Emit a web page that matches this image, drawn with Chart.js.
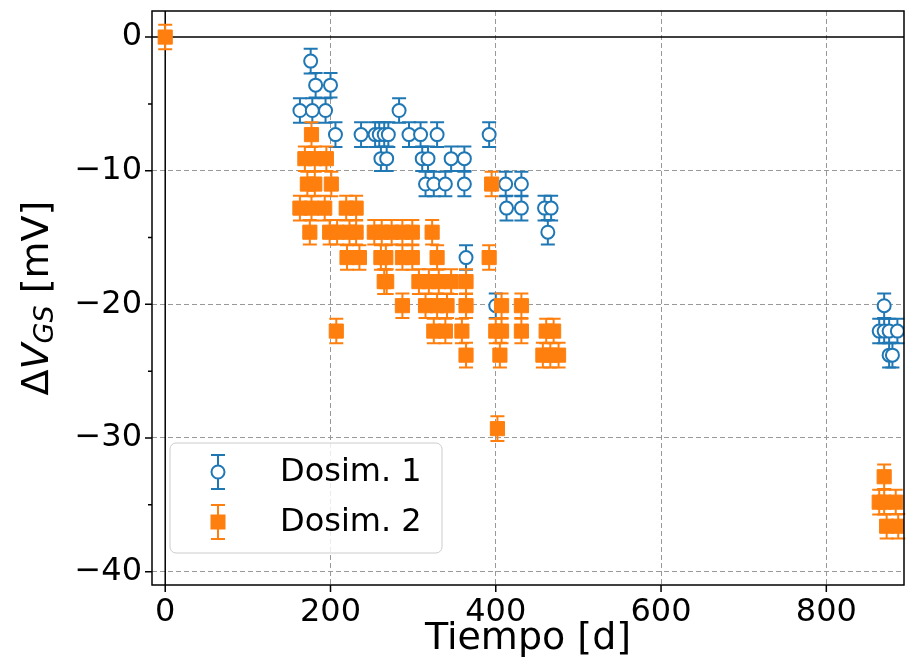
<!DOCTYPE html>
<html>
<head>
<meta charset="utf-8">
<script src="https://cdn.jsdelivr.net/npm/chart.js@4.4.1/dist/chart.umd.min.js"></script>
<style>
html, body { margin: 0; padding: 0; background: #fff; }
</style>
</head>
<body>
<canvas id="chart" width="915" height="668"></canvas>
<script>
// values (days, mV)
const DOSIM1_X = [163, 176, 178, 182, 194, 200, 206, 237, 254, 259, 261, 265, 268, 270, 283, 295, 309, 311, 315, 318, 325, 329, 339, 346, 362, 362, 364, 392, 400, 412, 413, 431, 431, 459, 463, 467,
    864, 870, 870, 876, 876, 880, 886]
const DOSIM1_Y = [-5.5, -1.8, -5.5, -3.6, -5.5, -3.6, -7.3, -7.3, -7.3, -7.3, -9.1, -7.3, -9.1, -7.3, -5.5, -7.3, -7.3, -9.1, -11, -9.1, -11, -7.3, -11, -9.1, -9.1, -11, -16.5, -7.3, -20.1, -11, -12.8, -11, -12.8, -12.8, -14.6, -12.8,
    -22, -20.1, -22, -22, -23.8, -23.8, -22]

const DOSIM2_X = [0, 177, 169, 181, 195, 172, 181, 201, 163, 177, 193, 219, 231,
    175, 199, 208, 223, 231, 253, 262, 274, 287, 299, 323,
    220, 235, 261, 267, 287, 299, 329, 392,
    265, 268, 307, 319, 331, 346, 364,
    287, 315, 329, 341, 364, 407, 431,
    207, 325, 339, 359, 400, 407, 431, 461, 470,
    364, 405, 457, 466, 476, 402, 395,
    870, 864, 870, 884, 873, 887]
const DOSIM2_Y = [0, -7.3, -9.1, -9.1, -9.1, -11, -11, -11, -12.8, -12.8, -12.8, -12.8, -12.8,
    -14.6, -14.6, -14.6, -14.6, -14.6, -14.6, -14.6, -14.6, -14.6, -14.6, -14.6,
    -16.5, -16.5, -16.5, -16.5, -16.5, -16.5, -16.5, -16.5,
    -18.3, -18.3, -18.3, -18.3, -18.3, -18.3, -18.3,
    -20.1, -20.1, -20.1, -20.1, -20.1, -20.1, -20.1,
    -22, -22, -22, -22, -22, -22, -22, -22, -22,
    -23.8, -23.8, -23.8, -23.8, -23.8, -29.3, -11,
    -32.9, -34.8, -34.8, -34.8, -36.6, -36.6]

const ERROR_MV = 0.92
const SERIES_LABELS = ['Dosim. 1', 'Dosim. 2']
const X_TICKS = [0, 200, 400, 600, 800]
const Y_TICKS = [-40, -35, -30, -25, -20, -15, -10, -5, 0]

const BLUE = '#1f77b4'
const ORANGE = '#ff7f0e'
const FONT = 'DejaVu Sans'
const TICK_SIZE = 32
const TITLE_SIZE = 38

function toPoints(xs, ys) {
    return xs.map((x, i) => ({ x: x, y: ys[i] }))
}

function fmt(v) {
    return v < 0 ? '\u2212' + Math.abs(v) : String(v)
}

const errorBars = {
    id: 'errorBars',
    beforeDatasetDraw(chart, args) {
        const ds = chart.data.datasets[args.index]
        const yScale = chart.scales.y
        const ctx = chart.ctx
        ctx.save()
        ctx.strokeStyle = ds.borderColor
        ctx.lineWidth = 2
        args.meta.data.forEach((el, i) => {
            const v = ds.data[i].y
            const top = yScale.getPixelForValue(v + ERROR_MV)
            const bot = yScale.getPixelForValue(v - ERROR_MV)
            ctx.beginPath()
            ctx.moveTo(el.x, top); ctx.lineTo(el.x, bot)
            ctx.moveTo(el.x - 7, top); ctx.lineTo(el.x + 7, top)
            ctx.moveTo(el.x - 7, bot); ctx.lineTo(el.x + 7, bot)
            ctx.stroke()
        })
        ctx.restore()
    }
}

// black zero lines under the markers
const zeroLines = {
    id: 'zeroLines',
    beforeDatasetsDraw(chart) {
        const { ctx, chartArea: a, scales } = chart
        const x0 = scales.x.getPixelForValue(0)
        const y0 = scales.y.getPixelForValue(0)
        ctx.save()
        ctx.strokeStyle = '#000'
        ctx.lineWidth = 1.5
        ctx.beginPath()
        ctx.moveTo(a.left, y0); ctx.lineTo(a.right, y0)
        ctx.moveTo(x0, a.top); ctx.lineTo(x0, a.bottom)
        ctx.stroke()
        ctx.restore()
    }
}

// frame, tick marks, axis titles, legend
const decorations = {
    id: 'decorations',
    afterDraw(chart) {
        const { ctx, chartArea: a, scales } = chart
        ctx.save()
        ctx.strokeStyle = '#000'
        ctx.lineWidth = 1.5
        ctx.strokeRect(a.left, a.top, a.right - a.left, a.bottom - a.top)

        ctx.beginPath()
        X_TICKS.forEach(v => {
            const px = scales.x.getPixelForValue(v)
            ctx.moveTo(px, a.bottom); ctx.lineTo(px, a.bottom + 7)
        })
        Y_TICKS.forEach(v => {
            const py = scales.y.getPixelForValue(v)
            const len = v % 10 === 0 ? 7 : 4
            ctx.moveTo(a.left, py); ctx.lineTo(a.left - len, py)
        })
        ctx.stroke()

        ctx.fillStyle = '#000'
        ctx.textAlign = 'center'
        ctx.textBaseline = 'middle'
        ctx.font = TITLE_SIZE + 'px "' + FONT + '"'
        ctx.fillText('Tiempo [d]', (a.left + a.right) / 2, 639)

        // y title: ΔV_GS [mV]
        ctx.translate(38, (a.top + a.bottom) / 2)
        ctx.rotate(-Math.PI / 2)
        const big = TITLE_SIZE + 'px "' + FONT + '"'
        const ital = 'italic ' + TITLE_SIZE + 'px "' + FONT + '"'
        const sub = 'italic ' + Math.round(TITLE_SIZE * 0.7) + 'px "' + FONT + '"'
        const parts = [
            { t: '\u0394', f: big, dy: 0 },
            { t: 'V', f: ital, dy: 0 },
            { t: 'GS', f: sub, dy: 8 },
            { t: ' [mV]', f: big, dy: 0 }
        ]
        let total = 0
        parts.forEach(p => { ctx.font = p.f; p.w = ctx.measureText(p.t).width; total += p.w })
        let cx = -total / 2
        ctx.textAlign = 'left'
        ctx.textBaseline = 'middle'
        parts.forEach(p => {
            ctx.font = p.f
            ctx.fillText(p.t, cx, p.dy)
            cx += p.w
        })
        ctx.restore()

        // legend
        ctx.save()
        const lx = 170, ly = 443, lw = 272, lh = 110
        ctx.beginPath()
        ctx.roundRect(lx, ly, lw, lh, 6)
        ctx.fillStyle = 'rgba(255,255,255,0.8)'
        ctx.fill()
        ctx.strokeStyle = '#cccccc'
        ctx.lineWidth = 1
        ctx.stroke()

        const mx = 218
        const rows = [
            { y: 472, color: BLUE, label: SERIES_LABELS[0], circle: true },
            { y: 522, color: ORANGE, label: SERIES_LABELS[1], circle: false }
        ]
        rows.forEach(r => {
            ctx.strokeStyle = r.color
            ctx.lineWidth = 2
            ctx.beginPath()
            ctx.moveTo(mx, r.y - 17); ctx.lineTo(mx, r.y + 17)
            ctx.moveTo(mx - 7, r.y - 17); ctx.lineTo(mx + 7, r.y - 17)
            ctx.moveTo(mx - 7, r.y + 17); ctx.lineTo(mx + 7, r.y + 17)
            ctx.stroke()
            if (r.circle) {
                ctx.beginPath()
                ctx.arc(mx, r.y, 6.5, 0, Math.PI * 2)
                ctx.fillStyle = '#fff'
                ctx.fill()
                ctx.stroke()
            } else {
                ctx.fillStyle = r.color
                ctx.fillRect(mx - 7.5, r.y - 7.5, 15, 15)
            }
            ctx.fillStyle = '#000'
            ctx.font = TICK_SIZE + 'px "' + FONT + '"'
            ctx.textAlign = 'left'
            ctx.textBaseline = 'middle'
            ctx.fillText(r.label, 280, r.y + 1)
        })
        ctx.restore()
    }
}

new Chart(document.getElementById('chart'), {
    type: 'scatter',
    data: {
        datasets: [{
            label: SERIES_LABELS[0],
            data: toPoints(DOSIM1_X, DOSIM1_Y),
            borderColor: BLUE,
            backgroundColor: '#ffffff',
            pointStyle: 'circle',
            pointRadius: 6.5,
            pointBorderWidth: 2,
            order: 1
        }, {
            label: SERIES_LABELS[1],
            data: toPoints(DOSIM2_X, DOSIM2_Y),
            borderColor: ORANGE,
            backgroundColor: ORANGE,
            pointStyle: 'rect',
            pointRadius: 10,
            pointBorderWidth: 1,
            order: 0
        }]
    },
    options: {
        responsive: false,
        animation: false,
        events: [],
        layout: { padding: { top: 5, right: 7, left: 0, bottom: 0 } },
        plugins: {
            legend: { display: false },
            tooltip: { enabled: false }
        },
        scales: {
            x: {
                type: 'linear',
                min: -16,
                max: 894,
                afterBuildTicks: s => { s.ticks = X_TICKS.map(v => ({ value: v })) },
                afterFit: s => { s.height = 83; s.paddingLeft = 0; s.paddingRight = 0 },
                border: { display: false, dash: [5, 3] },
                grid: {
                    drawTicks: false,
                    color: c => c.tick && c.tick.value !== 0 ? '#999999' : 'rgba(0,0,0,0)',
                    lineWidth: 1
                },
                ticks: {
                    padding: 8,
                    color: '#000',
                    font: { family: FONT, size: TICK_SIZE },
                    maxRotation: 0,
                    callback: v => fmt(v)
                }
            },
            y: {
                type: 'linear',
                min: -41,
                max: 1.95,
                afterBuildTicks: s => { s.ticks = Y_TICKS.map(v => ({ value: v })) },
                afterFit: s => { s.width = 152; s.paddingTop = 0; s.paddingBottom = 0 },
                border: { display: false, dash: [5, 3] },
                grid: {
                    drawTicks: false,
                    color: c => c.tick && c.tick.value % 10 === 0 && c.tick.value !== 0 ? '#999999' : 'rgba(0,0,0,0)',
                    lineWidth: 1
                },
                ticks: {
                    padding: 10,
                    color: '#000',
                    font: { family: FONT, size: TICK_SIZE },
                    callback: v => v % 10 === 0 ? fmt(v) : ''
                }
            }
        }
    },
    plugins: [errorBars, zeroLines, decorations]
})
</script>
</body>
</html>
